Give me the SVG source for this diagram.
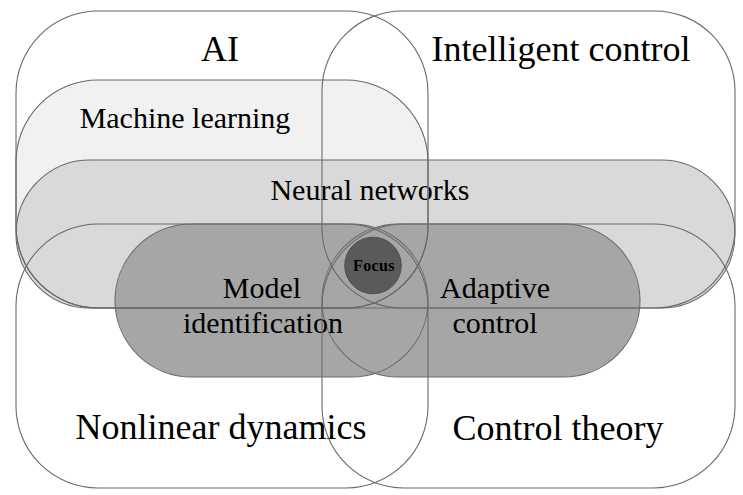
<svg xmlns="http://www.w3.org/2000/svg" xmlns:xlink="http://www.w3.org/1999/xlink" width="743" height="495" viewBox="0 0 743 495">
  <style>
    .lbl { font-family: "Liberation Serif", "Times New Roman", serif; fill: #000; text-anchor: middle; }
    .big { font-size: 36px; }
    .mid { font-size: 30px; }
    .focus { font-size: 16px; font-weight: bold; letter-spacing: 0.4px; }
    .edge { fill: none; stroke: #6a6a6a; stroke-width: 1.1; }
  </style>
  <defs>
    <rect id="s-ml" x="16" y="80" width="412" height="228" rx="82" ry="82"/>
    <rect id="s-nn" x="16" y="160" width="719" height="148" rx="74" ry="74"/>
    <rect id="s-mi" x="115" y="224" width="313" height="153" rx="76.5" ry="76.5"/>
    <rect id="s-ac" x="322" y="224" width="318" height="153" rx="76.5" ry="76.5"/>
    <rect id="s-ai" x="16" y="11" width="412" height="297" rx="82" ry="82"/>
    <rect id="s-ic" x="322" y="11" width="413" height="297" rx="80" ry="80"/>
    <rect id="s-nd" x="16" y="224" width="412" height="264" rx="82" ry="82"/>
    <rect id="s-ct" x="322" y="224" width="413" height="264" rx="82" ry="82"/>
  </defs>
  <rect x="0" y="0" width="743" height="495" fill="#ffffff"/>

  <g id="machine-learning">
    <use xlink:href="#s-ml" href="#s-ml" fill="#f1f1f1"/>
    <text class="lbl mid" x="185" y="128">Machine learning</text>
  </g>
  <g id="neural-networks">
    <use xlink:href="#s-nn" href="#s-nn" fill="#d9d9d9"/>
    <text class="lbl mid" x="370" y="200">Neural networks</text>
  </g>
  <g id="model-identification">
    <use xlink:href="#s-mi" href="#s-mi" fill="#a6a6a6"/>
  </g>
  <g id="adaptive-control">
    <use xlink:href="#s-ac" href="#s-ac" fill="#a6a6a6"/>
  </g>

  <g id="connectors">
    <use xlink:href="#s-ml" href="#s-ml" class="edge"/>
    <use xlink:href="#s-nn" href="#s-nn" class="edge"/>
    <use xlink:href="#s-mi" href="#s-mi" class="edge"/>
    <use xlink:href="#s-ac" href="#s-ac" class="edge"/>
  </g>

  <g id="model-identification-label">
    <text class="lbl mid" x="262" y="298">Model</text>
    <text class="lbl mid" x="263" y="333">identification</text>
  </g>
  <g id="adaptive-control-label">
    <text class="lbl mid" x="495" y="298">Adaptive</text>
    <text class="lbl mid" x="495" y="333">control</text>
  </g>

  <g id="ai">
    <use xlink:href="#s-ai" href="#s-ai" class="edge"/>
    <text class="lbl big" x="220" y="61">AI</text>
  </g>
  <g id="intelligent-control">
    <use xlink:href="#s-ic" href="#s-ic" class="edge"/>
    <text class="lbl big" x="561" y="61">Intelligent control</text>
  </g>
  <g id="nonlinear-dynamics">
    <use xlink:href="#s-nd" href="#s-nd" class="edge"/>
    <text class="lbl big" x="221" y="439">Nonlinear dynamics</text>
  </g>
  <g id="control-theory">
    <use xlink:href="#s-ct" href="#s-ct" class="edge"/>
    <text class="lbl big" x="558" y="440">Control theory</text>
  </g>

  <g id="focus">
    <circle cx="373" cy="265.5" r="28.3" fill="#5a5a5a" stroke="#505050" stroke-width="1"/>
    <text class="lbl focus" x="374" y="270.5">Focus</text>
  </g>
</svg>
